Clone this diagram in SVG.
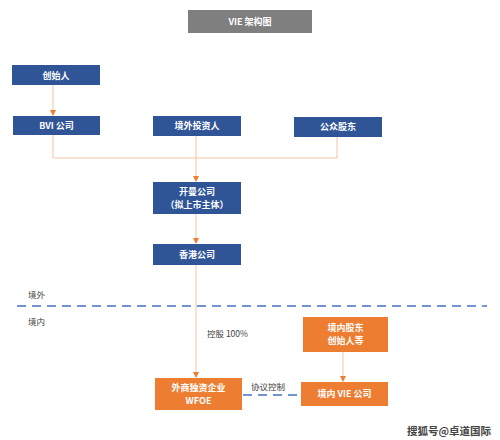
<svg xmlns="http://www.w3.org/2000/svg" width="500" height="440" viewBox="0 0 500 440">
<defs>
<style>
.blue{fill:#2f5597}
.orange{fill:#ed7d31}
.gray{fill:#7f7f7f}
.t{font-family:"Noto Sans CJK SC","Liberation Sans",sans-serif;font-size:9px;fill:#ffffff;text-anchor:middle;font-weight:bold}
.lbl{font-family:"Noto Sans CJK SC","Liberation Sans",sans-serif;font-size:8.5px;fill:#404040}
.ln{fill:none;stroke:#f2c4a6;stroke-width:1}
.dash{fill:none;stroke:#4472c4;stroke-width:1.5;stroke-dasharray:9,6}
</style>
<marker id="ah" markerWidth="6" markerHeight="6" refX="5" refY="3" orient="auto" markerUnits="userSpaceOnUse">
<path d="M0,0 L6,3 L0,6 Z" fill="#ed7d31"/>
</marker>
</defs>
<rect width="500" height="440" fill="#ffffff"/>

<g id="title"><rect class="gray" x="188" y="10" width="124" height="23"/><text class="t" x="250" y="25">VIE 架构图</text></g>

<g id="connectors">
<line class="ln" x1="53" y1="85" x2="53" y2="115" marker-end="url(#ah)"/>
<polyline class="ln" points="53,135 53,158 337,158 337,137"/>
<line class="ln" x1="196" y1="136" x2="196" y2="181" marker-end="url(#ah)"/>
<line class="ln" x1="196" y1="214" x2="196" y2="243" marker-end="url(#ah)"/>
<line class="ln" x1="196" y1="265" x2="196" y2="377" marker-end="url(#ah)"/>
<line class="ln" x1="343" y1="352" x2="343" y2="381" marker-end="url(#ah)"/>
<line class="dash" x1="243" y1="395" x2="300" y2="395"/>
<line class="dash" x1="17" y1="306" x2="487" y2="306"/>
</g>

<g id="n1"><rect class="blue" x="12" y="65" width="88" height="20"/><text class="t" x="56" y="78.5">创始人</text></g>
<g id="n2"><rect class="blue" x="13" y="116" width="87" height="19"/><text class="t" x="56.5" y="128.5">BVI 公司</text></g>
<g id="n3"><rect class="blue" x="153" y="116" width="88" height="20"/><text class="t" x="197" y="129">境外投资人</text></g>
<g id="n4"><rect class="blue" x="294" y="117" width="88" height="20"/><text class="t" x="338" y="130">公众股东</text></g>
<g id="n5"><rect class="blue" x="153" y="182" width="88" height="32"/><text class="t" x="197" y="195">开曼公司</text><text class="t" x="197" y="208">（拟上市主体）</text></g>
<g id="n6"><rect class="blue" x="153" y="244" width="88" height="21"/><text class="t" x="197" y="257.5">香港公司</text></g>
<g id="n7"><rect class="orange" x="303" y="317" width="85" height="35"/><text class="t" x="345.5" y="331">境内股东</text><text class="t" x="345.5" y="344">创始人等</text></g>
<g id="n8"><rect class="orange" x="155" y="378" width="87" height="32"/><text class="t" x="198.5" y="391">外商独资企业</text><text class="t" x="198.5" y="404">WFOE</text></g>
<g id="n9"><rect class="orange" x="301" y="382" width="87" height="24"/><text class="t" x="344.5" y="397">境内 VIE 公司</text></g>

<g id="labels">
<text class="lbl" x="28" y="298">境外</text>
<text class="lbl" x="28" y="325">境内</text>
<text class="lbl" x="207" y="337">控股 100%</text>
<text class="lbl" x="251" y="390">协议控制</text>
<text class="lbl" x="407" y="435" style="font-size:10.5px;fill:#444;font-weight:bold">搜狐号@卓道国际</text>
</g>
</svg>
